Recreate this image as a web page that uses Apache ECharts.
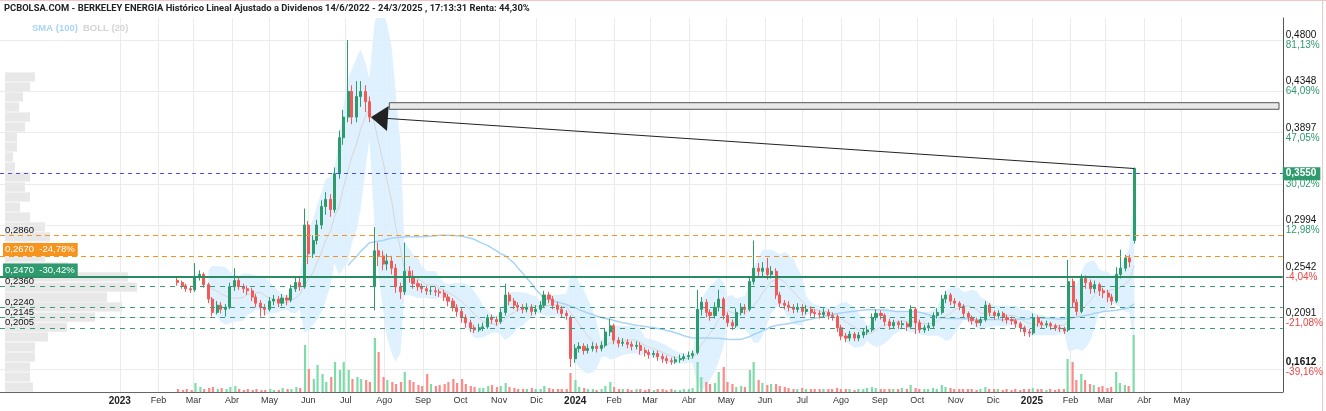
<!DOCTYPE html>
<html>
<head>
<meta charset="utf-8">
<script src="https://cdn.jsdelivr.net/npm/echarts@6/dist/echarts.min.js"></script>
<style>
  html, body { margin: 0; padding: 0; background: #fff; }
  #chart { width: 1326px; height: 411px; }
</style>
</head>
<body>
<div id="chart"></div>
<script>
const firstDate = '2023-02-16';
const openK = [
  246,244,241,238,237,250,252,242,228,215, 222,218,220,240,246,240,238,236,230,224,
  220,218,226,228,224,229,227,238,244,240, 300,272,285,300,318,325,315,350,385,405,
  430,405,425,430,420,240,275,270,262,265, 258,240,235,255,250,243,240,238,236,236,
  235,234,230,226,220,216,210,205,200,198, 200,201,210,208,206,215,232,226,222,220,
  218,220,216,218,222,232,228,222,218,214, 210,170,180,182,178,180,182,180,183,196,
  202,188,185,186,184,182,183,178,176,174, 175,172,170,168,167,169,170,172,173,176,
  218,225,215,212,220,228,212,205,202,215, 220,218,245,258,255,258,252,255,232,224,
  222,220,218,220,216,218,215,214,213,215, 212,211,200,192,190,194,190,193,196,198,
  210,214,212,206,202,205,203,204,201,218, 205,198,200,202,212,215,228,232,226,224,
  221,214,210,207,205,208,222,215,212,214, 210,208,207,204,200,196,195,210,205,203,
  204,202,200,199,198,245,225,216,248,244, 238,242,236,234,230,226,252,258,268,285
];
const closeK = [
  244,241,238,237,250,252,242,228,215,222, 218,220,240,246,240,238,236,230,224,220,
  218,226,228,224,229,227,238,244,240,300, 272,285,300,318,325,315,350,385,405,430,
  405,425,430,420,405,275,270,262,265,258, 240,235,255,250,243,240,238,236,236,235,
  234,230,226,220,216,210,205,200,198,200, 201,210,208,206,215,232,226,222,220,218,
  220,216,218,222,232,228,222,218,214,212, 170,180,182,178,180,182,180,183,196,202,
  188,185,186,184,182,183,178,176,174,175, 172,170,168,167,169,170,172,173,175,218,
  225,215,212,220,228,212,205,202,215,220, 218,245,258,255,258,252,255,232,224,222,
  220,218,220,216,218,215,214,213,215,212, 211,200,192,190,194,190,193,196,198,210,
  214,212,206,202,205,203,204,201,218,205, 198,200,202,212,215,228,232,226,224,221,
  214,210,207,205,208,222,215,212,214,210, 208,207,204,200,196,195,210,205,203,204,
  202,200,199,197,245,225,216,248,244,238, 242,236,234,230,226,252,258,268,264,355
];
const lowK = [
  241,238,235,234,235,246,239,224,211,213, 214,211,218,236,237,234,232,226,220,211,
  212,216,222,220,221,222,225,235,236,238, 262,268,281,296,310,308,312,345,378,400,
  398,400,415,410,400,217,260,256,256,252, 234,228,232,244,238,236,234,232,232,231,
  230,226,221,216,211,205,200,196,195,196, 197,199,204,202,204,212,222,218,216,214,
  215,212,213,215,220,224,218,214,210,208, 162,166,176,174,175,177,176,177,181,192,
  184,181,182,180,178,179,174,172,170,171, 168,166,165,164,165,166,168,169,170,174,
  212,210,207,209,216,208,201,198,200,212, 213,216,242,250,250,247,248,228,220,218,
  216,214,215,212,213,211,210,209,210,208, 207,196,188,186,187,187,187,190,193,196,
  207,208,202,198,199,199,200,197,199,194, 195,195,197,200,209,213,224,222,220,217,
  210,206,203,201,202,206,211,208,209,206, 204,203,200,196,192,191,193,201,199,200,
  198,197,196,194,196,220,212,214,238,233, 234,231,229,225,222,224,248,255,259,282
];
const highK = [
  249,246,243,241,263,256,254,244,230,226, 225,223,244,258,249,243,241,239,233,227,
  223,230,232,231,233,232,242,250,250,316, 304,290,305,324,332,330,356,392,412,480,
  436,440,440,436,425,298,283,275,272,270, 262,244,283,260,256,247,243,241,240,240,
  238,237,233,229,223,219,213,208,203,204, 205,213,213,211,219,243,235,229,225,223,
  224,223,222,226,236,235,231,225,221,217, 212,184,186,185,184,186,185,187,200,209,
  204,191,190,189,187,187,186,181,179,178, 178,175,173,171,172,174,175,177,178,237,
  230,228,218,225,237,230,215,208,219,224, 223,250,285,263,264,268,260,258,235,227,
  226,223,224,223,222,221,218,217,219,218, 215,213,203,195,197,196,196,199,202,214,
  218,217,214,209,208,207,207,206,222,220, 208,203,205,215,219,232,236,234,229,226,
  223,216,212,210,211,226,224,217,217,216, 213,211,209,206,202,199,214,212,207,207,
  206,204,203,201,266,248,228,252,251,247, 246,244,239,237,233,259,276,271,271,356
];
const volume = [
  3,2,3,2,9,5,3,4,5,3, 4,3,5,6,3,2,3,2,3,2,
  2,3,2,2,4,3,3,5,4,47, 23,13,27,18,10,15,30,22,30,22,
  13,15,13,12,10,54,40,15,12,10, 8,10,20,12,10,7,6,18,8,6,
  7,8,10,13,9,13,8,6,5,4, 4,6,7,5,6,9,5,4,3,3,
  3,4,3,3,6,4,3,3,3,3, 19,12,5,4,3,3,2,3,6,10,
  5,3,3,3,2,3,3,2,3,2, 3,3,2,3,2,2,3,3,4,30,
  15,10,8,9,20,25,10,8,5,6, 5,22,30,12,9,7,8,8,6,5,
  4,3,3,4,3,3,3,3,3,3, 3,4,3,3,3,2,3,3,4,5,
  4,3,3,3,3,3,4,3,7,4, 3,3,3,4,3,7,5,4,3,3,
  3,3,3,2,3,5,3,3,3,2, 3,2,3,2,3,3,4,3,3,2,
  3,2,3,3,33,30,12,18,12,8, 7,5,6,4,5,20,9,7,6,57
];

// volume at price (left profile)
const profilePrice = [
  0.4440,0.4343,0.4246,0.4148,0.4051,0.3954,0.3856,0.3759,0.3662,0.3565,
  0.3467,0.3370,0.3273,0.3175,0.3078,0.2981,0.2884,0.2786,0.2689,0.2592,
  0.2495,0.2397,0.2300,0.2203,0.2105,0.2008,0.1911,0.1814,0.1716,0.1619,0.1522,0.1424
];
const profileVol = [
  30,25,18,14,25,20,12,12,8,10,
  25,20,25,15,25,40,45,43,40,63,
  123,132,102,117,90,62,43,30,30,25,25,28
];

// right axis
const priceTicks = [0.4800, 0.4348, 0.3897, 0.3445, 0.2994, 0.2542, 0.2091, 0.1612];
const pctLabels = ['81,13%', '64,09%', '47,05%', '30,02%', '12,98%', '-4,04%', '-21,08%', '-39,16%'];

// horizontal levels
const resistLevels = [0.2860, 0.2670];
const resistLabels = ['0,2860', '0,2670  -24,78%'];
const mainLevel = 0.2470;
const mainLabel = '0,2470  -30,42%';
const supportLevels = [0.2360, 0.2240, 0.2145, 0.2005];
const lastPrice = 0.3550;

const monthLabels = ['2023','Feb','Mar','Abr','May','Jun','Jul','Ago','Sep','Oct','Nov','Dic',
                     '2024','Feb','Mar','Abr','May','Jun','Jul','Ago','Sep','Oct','Nov','Dic',
                     '2025','Feb','Mar','Abr','May'];

const GREEN = '#2e9b6c', RED = '#f05a57';

function pad(n) { return n < 10 ? '0' + n : '' + n; }
function ymd(d) { return d.getFullYear() + '-' + pad(d.getMonth() + 1) + '-' + pad(d.getDate()); }

// sample dates: Thu, Mon, Thu, ...
const dates = [];
let cur = new Date(firstDate + 'T00:00:00');
for (let i = 0; i < closeK.length; i++) {
  dates.push(ymd(cur));
  cur.setDate(cur.getDate() + (i % 2 === 0 ? 4 : 3));
}

const close = closeK.map(v => v / 1000);
const candles = dates.map((d, i) => [d, openK[i] / 1000, closeK[i] / 1000, lowK[i] / 1000, highK[i] / 1000]);
const volBars = dates.map((d, i) => ({
  value: [d, volume[i]],
  itemStyle: { color: closeK[i] >= openK[i] ? '#7fdca9' : '#fb8b89' }
}));

// indicators: 20 trading days ~ 8 samples, 100 trading days ~ 40 samples
function movingAvg(n) {
  return close.map((_, i) => {
    if (i < n - 1) return null;
    let s = 0;
    for (let k = i - n + 1; k <= i; k++) s += close[k];
    return s / n;
  });
}
const smaLong = movingAvg(40);
const bollMid = movingAvg(8);
const bollLow = [], bollSpan = [];
close.forEach((_, i) => {
  if (bollMid[i] == null) { bollLow.push([dates[i], '-']); bollSpan.push([dates[i], '-']); return; }
  let s = 0;
  for (let k = i - 7; k <= i; k++) s += (close[k] - bollMid[i]) ** 2;
  const sd = Math.sqrt(s / 8);
  bollLow.push([dates[i], bollMid[i] - 2 * sd]);
  bollSpan.push([dates[i], 4 * sd]);
});

const monthStarts = monthLabels.map((_, i) => ymd(new Date(2023, i, 1)));

// grid lines (and month labels under the vertical ones)
const gridLines = priceTicks.map(v => ({ yAxis: v, label: { show: false } }))
  .concat(monthStarts.map((t, i) => {
    const year = /^\d{4}$/.test(monthLabels[i]);
    return {
      xAxis: t,
      label: { show: true, position: 'start', distance: 4, formatter: monthLabels[i],
               fontSize: year ? 10 : 9, fontWeight: year ? 'bold' : 'normal',
               color: year ? '#222' : '#333' }
    };
  }));

// left-side level labels: centre of the text sits dy px above the line
function levelLabel(text, dy, box) {
  const l = { formatter: text, position: 'insideStartTop', verticalAlign: 'middle',
              distance: [box ? 3 : 5, dy], fontSize: 9.5, color: '#111' };
  if (box) Object.assign(l, { color: '#fff', backgroundColor: box, padding: [2, 3, 1, 2] });
  return l;
}

const levelLines = [];
resistLevels.forEach((v, i) => {
  levelLines.push({
    yAxis: v,
    lineStyle: { color: '#f5941f', type: [5, 4], width: 1 },
    label: i === 1 ? levelLabel(resistLabels[i], 6.5, '#f7941d') : levelLabel(resistLabels[i], 5)
  });
});
levelLines.push({
  yAxis: mainLevel,
  lineStyle: { color: '#2a8a62', type: 'solid', width: 2 },
  label: levelLabel(mainLabel, 6.5, '#2e9a6e')
});
supportLevels.forEach(v => {
  levelLines.push({
    yAxis: v,
    lineStyle: { color: '#3a9a78', type: [5, 5], width: 1 },
    label: levelLabel(v.toFixed(4).replace('.', ','), 5)
  });
});
levelLines.push({
  yAxis: lastPrice,
  lineStyle: { color: '#4b4bef', type: [4, 4], width: 1 },
  label: { formatter: lastPrice.toFixed(4).replace('.', ','), position: 'end', distance: 0,
           color: '#fff', backgroundColor: '#2e9a6e', padding: [2, 4, 1, 3], fontSize: 10, fontWeight: 'bold' }
});

const chart = echarts.init(document.getElementById('chart'));
const FONT = "'Liberation Sans', Arial, sans-serif";
const X_MIN = '2022-09-27', X_MAX = '2025-07-21';
const Y_MIN = 0.13759, Y_MAX = 0.5014;

chart.setOption({
  animation: false,
  backgroundColor: '#fff',
  textStyle: { fontFamily: FONT },
  title: [
    {
      text: 'PCBOLSA.COM - BERKELEY ENERGIA Histórico Lineal Ajustado a Dividenos 14/6/2022 - 24/3/2025 , 17:13:31 Renta: 44,30%',
      left: 4, top: 4, padding: 0,
      textStyle: { fontSize: 9.4, fontWeight: 'bold', color: '#222', fontFamily: 'Roboto, sans-serif' }
    },
    {
      text: '{a|SMA (100)} {b|BOLL (20)}',
      left: 32, top: 19, padding: 0,
      textStyle: { rich: {
        a: { fontSize: 9.5, fontWeight: 'bold', color: '#a8d4f5' },
        b: { fontSize: 9.5, fontWeight: 'bold', color: '#d4d4d4' }
      } }
    }
  ],
  grid: [
    { left: 0, right: 43, top: 18, bottom: 19 },
    { left: 0, right: 43, top: 330, bottom: 19 },
    { left: 5, right: 43, top: 18, bottom: 19 }
  ],
  xAxis: [
    {
      type: 'time', gridIndex: 0, min: X_MIN, max: X_MAX,
      axisLine: { show: true, lineStyle: { color: '#666' } },
      axisTick: { show: false },
      splitLine: { show: false },
      axisLabel: { show: false }
    },
    { type: 'time', gridIndex: 1, min: X_MIN, max: X_MAX, show: false },
    { type: 'value', gridIndex: 2, min: 0, max: 1278, show: false }
  ],
  yAxis: [
    {
      type: 'value', gridIndex: 0, position: 'right', min: Y_MIN, max: Y_MAX,
      axisLine: { show: true, lineStyle: { color: '#555' } },
      axisTick: { show: false },
      splitLine: { show: false },
      axisLabel: {
        customValues: priceTicks, margin: 3, align: 'left',
        formatter: v => {
          const i = priceTicks.indexOf(v);
          const pct = pctLabels[i] || '';
          const p = v.toFixed(4).replace('.', ',');
          const last = i === priceTicks.length - 1;
          return '{' + (last ? 'pb' : 'p') + '|' + p + '}\n{' + (pct[0] === '-' ? 'r' : 'g') + '|' + pct + '}';
        },
        rich: {
          p: { fontSize: 10, color: '#111', lineHeight: 10 },
          pb: { fontSize: 10, color: '#111', fontWeight: 'bold', lineHeight: 10 },
          g: { fontSize: 10, color: '#2e9a6e', lineHeight: 10 },
          r: { fontSize: 10, color: '#e84545', lineHeight: 10 }
        }
      }
    },
    { type: 'value', gridIndex: 1, min: 0, max: 62, show: false },
    { type: 'value', gridIndex: 2, min: Y_MIN, max: Y_MAX, show: false }
  ],
  series: [
    {
      name: 'perfil', type: 'custom', xAxisIndex: 2, yAxisIndex: 2, z: 0, silent: true,
      data: profilePrice.map((p, i) => [profileVol[i], p]),
      renderItem: (params, api) => {
        const a = api.coord([0, api.value(1) + 0.0045]);
        const b = api.coord([api.value(0), api.value(1) - 0.0045]);
        return { type: 'rect', shape: { x: a[0], y: a[1], width: b[0] - a[0], height: b[1] - a[1] },
                 style: { fill: '#e8e8e8' } };
      }
    },
    {
      name: 'bollLow', type: 'line', xAxisIndex: 0, yAxisIndex: 0, stack: 'boll', z: 1,
      data: bollLow, showSymbol: false, silent: true, lineStyle: { width: 0, opacity: 0 },
      markLine: {
        silent: true, symbol: 'none', z: 1, animation: false,
        lineStyle: { color: '#ebebeb', type: 'solid', width: 1 },
        data: gridLines
      }
    },
    {
      name: 'bollBand', type: 'line', xAxisIndex: 0, yAxisIndex: 0, stack: 'boll', z: 2,
      data: bollSpan, showSymbol: false, silent: true, lineStyle: { width: 0, opacity: 0 },
      areaStyle: { color: '#dcefff', opacity: 0.9 }
    },
    {
      name: 'BOLL (20)', type: 'line', xAxisIndex: 0, yAxisIndex: 0, z: 3,
      data: dates.map((d, i) => [d, bollMid[i] == null ? '-' : bollMid[i]]),
      showSymbol: false, silent: true, lineStyle: { color: '#d6d6d6', width: 1 }
    },
    {
      name: 'SMA (100)', type: 'line', xAxisIndex: 0, yAxisIndex: 0, z: 3,
      data: dates.map((d, i) => [d, smaLong[i] == null ? '-' : smaLong[i]]),
      showSymbol: false, silent: true, lineStyle: { color: '#a9d4f5', width: 1.5 }
    },
    {
      name: 'Volumen', type: 'bar', xAxisIndex: 1, yAxisIndex: 1, z: 2,
      data: volBars, barWidth: 2.2, silent: true
    },
    {
      name: 'BERKELEY ENERGIA', type: 'candlestick', xAxisIndex: 0, yAxisIndex: 0, z: 10,
      data: candles, encode: { x: 0, y: [1, 2, 3, 4] }, barWidth: 2.6, silent: true,
      itemStyle: { color: GREEN, color0: RED, borderColor: GREEN, borderColor0: RED, borderWidth: 1 },
      markLine: {
        silent: true, symbol: 'none', z: 11, animation: false,
        data: levelLines
      }
    },
    {
      name: 'dibujos', type: 'line', xAxisIndex: 0, yAxisIndex: 0, z: 12,
      data: [[dates[dates.length - 1], '-']], showSymbol: false, silent: true,
      markArea: {
        silent: true, z: 12,
        itemStyle: { color: '#e9e9e9', borderColor: '#555', borderWidth: 1 },
        data: [[{ coord: ['2023-08-05', 0.4190] }, { coord: ['2025-07-18', 0.4126] }]]
      },
      markLine: {
        silent: true, z: 12, animation: false,
        label: { show: false },
        lineStyle: { color: '#222', type: 'solid', width: 1 },
        data: [[
          { coord: [dates[dates.length - 1], lastPrice], symbol: 'none' },
          { coord: ['2023-07-28', 0.4042], symbol: 'triangle', symbolSize: [25, 17] }
        ]]
      }
    }
  ],
  graphic: [
    { type: 'line', shape: { x1: 0, y1: 0.5, x2: 1326, y2: 0.5 }, style: { stroke: '#f3c6c6', lineWidth: 1 }, silent: true },
    { type: 'line', shape: { x1: 1322.5, y1: 0, x2: 1322.5, y2: 411 }, style: { stroke: '#f3c6c6', lineWidth: 1 }, silent: true }
  ]
});
</script>
</body>
</html>
